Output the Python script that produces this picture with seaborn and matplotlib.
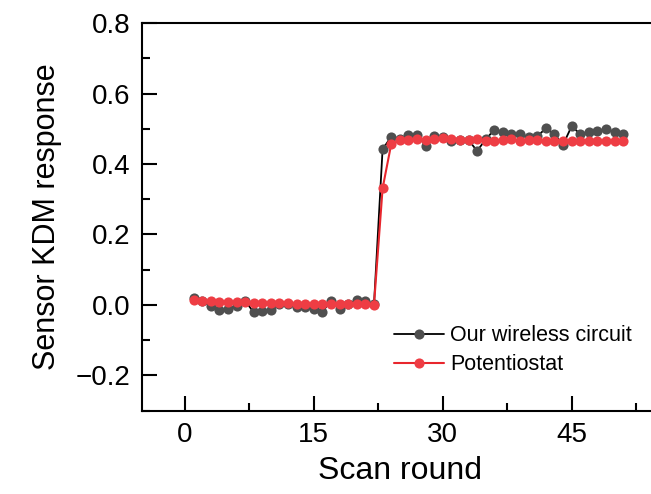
import numpy as np
import pandas as pd
import matplotlib
matplotlib.use("Agg")
import matplotlib.pyplot as plt
from matplotlib.ticker import MultipleLocator
import seaborn as sns

# Scan rounds 1..51
scan_round = list(range(1, 52))

wireless = [0.019, 0.012, -0.004, -0.014, -0.012, -0.002, 0.012, -0.021, -0.018, -0.013,
            0.004, 0.003, -0.007, -0.005, -0.011, -0.019, 0.012, -0.010, 0.002, 0.015,
            0.011, 0.002, 0.442, 0.477, 0.470, 0.481, 0.483, 0.452, 0.480, 0.476,
            0.466, 0.469, 0.468, 0.437, 0.470, 0.497, 0.490, 0.484, 0.484, 0.477,
            0.479, 0.501, 0.484, 0.455, 0.507, 0.485, 0.491, 0.494, 0.498, 0.492,
            0.484]

potentiostat = [0.014, 0.012, 0.010, 0.009, 0.009, 0.008, 0.008, 0.007, 0.007, 0.006,
                0.005, 0.005, 0.004, 0.004, 0.004, 0.003, 0.003, 0.003, 0.003, 0.004,
                0.003, 0.001, 0.331, 0.456, 0.467, 0.469, 0.470, 0.468, 0.470, 0.473,
                0.471, 0.469, 0.469, 0.470, 0.466, 0.466, 0.469, 0.470, 0.466, 0.467,
                0.469, 0.466, 0.466, 0.466, 0.465, 0.466, 0.466, 0.466, 0.465, 0.466,
                0.465]

df = pd.DataFrame({"round": scan_round, "wireless": wireless, "potentiostat": potentiostat})

sns.set_theme(style="ticks")
plt.rcParams["font.family"] = ["Liberation Sans", "DejaVu Sans"]
plt.rcParams.update({"text.color": "black", "axes.labelcolor": "black",
                     "xtick.color": "black", "ytick.color": "black",
                     "axes.edgecolor": "black"})

fig = plt.figure(figsize=(6.51, 4.94), dpi=100)
ax = fig.add_axes([0.2181, 0.1686, 0.792, 0.7848])

sns.lineplot(data=df, x="round", y="wireless", ax=ax, color="black", linewidth=1.3,
             marker="o", markersize=7.3, markerfacecolor="#4f4f4f",
             markeredgewidth=0, label="Our wireless circuit")
sns.lineplot(data=df, x="round", y="potentiostat", ax=ax, color="#e8262d", linewidth=1.5,
             marker="o", markersize=7.3, markerfacecolor="#ee3d44",
             markeredgewidth=0, label="Potentiostat")

ax.set_xlim(-5, 55)
ax.set_ylim(-0.3, 0.8)
ax.xaxis.set_minor_locator(MultipleLocator(7.5))
ax.yaxis.set_minor_locator(MultipleLocator(0.1))
ax.set_xticks([0, 15, 30, 45])
ax.set_yticks([-0.2, 0.0, 0.2, 0.4, 0.6, 0.8])
ax.set_yticklabels(["\u22120.2", "0.0", "0.2", "0.4", "0.6", "0.8"])

ax.tick_params(which="major", direction="in", length=11, width=1.5, labelsize=20, pad=8)
ax.tick_params(which="minor", direction="in", length=6, width=1.5)
for s in ax.spines.values():
    s.set_linewidth(1.5)

ax.set_xlabel("Scan round", fontsize=23, labelpad=6)
ax.set_ylabel("Sensor KDM response", fontsize=22, labelpad=10)

ax.legend(loc="upper left", bbox_to_anchor=(0.473, 0.243), frameon=False, fontsize=15.5,
          handlelength=2.3, handletextpad=0.3, labelspacing=0.38, borderaxespad=0)

fig.savefig("out.png", dpi=100)
